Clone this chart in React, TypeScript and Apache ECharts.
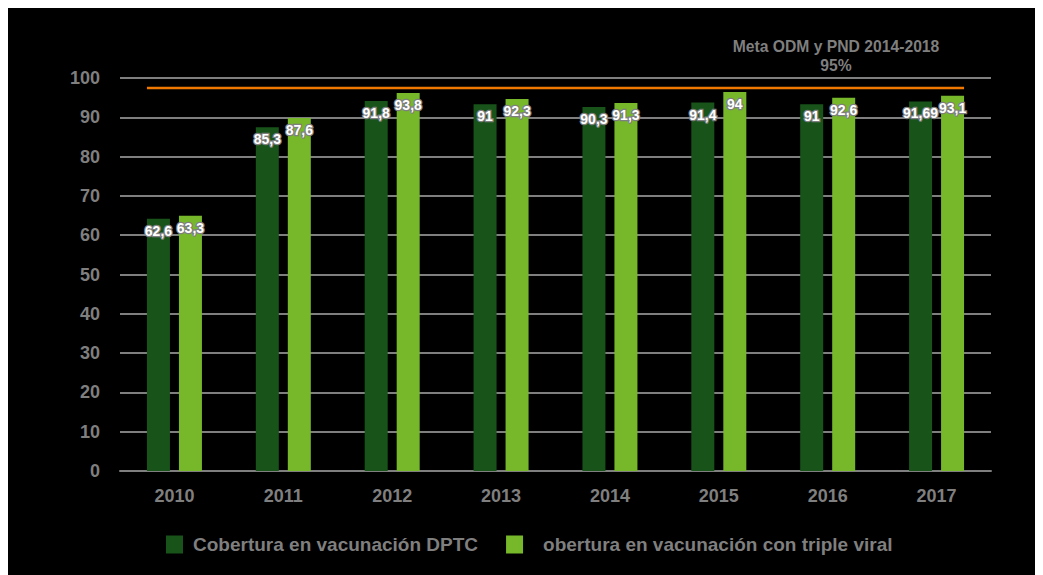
import React, { useEffect, useRef } from "react";
import * as echarts from "echarts";

const years = ["2010", "2011", "2012", "2013", "2014", "2015", "2016", "2017"];
const dptc = [62.6, 85.3, 91.8, 91, 90.3, 91.4, 91, 91.69];
const tripleViral = [63.3, 87.6, 93.8, 92.3, 91.3, 94, 92.6, 93.1];
const seriesNames = ["Cobertura en vacunación DPTC", "obertura en vacunación con triple viral"];
const metaValue = 95;
const metaLabel = "Meta ODM y PND 2014-2018\n95%";

const FONT = "'Liberation Sans', Arial, Helvetica, sans-serif";
const GRAY = "#7f7f7f";
const DARK = "#18531a";
const LIGHT = "#76b82a";
const ORANGE = "#f07800";

const GRID_LEFT = 112;
const GRID_RIGHT = 52;
const BAR_W = 23;
const BAR_GAP_PX = 9;

export default function App() {
  const ref = useRef<HTMLDivElement>(null);
  useEffect(() => {
    if (!ref.current) return;
    const chart = echarts.init(ref.current, null, { renderer: "svg" });
    const width = 1035;
    const catW = (width - GRID_LEFT - GRID_RIGHT) / years.length;
    const halfGroup = (BAR_W * 2 + BAR_GAP_PX) / 2 / catW;
    const fmt = (p: any) => String(p.value).replace(".", ",");
    const labelStyle = {
      show: true,
      position: "insideTop" as const,
      distance: 5,
      formatter: fmt,
      color: "#ffffff",
      fontFamily: FONT,
      fontWeight: "bold" as const,
      fontSize: 14,
      textBorderColor: GRAY,
      textBorderWidth: 2.5,
    };
    chart.setOption({
      animation: false,
      backgroundColor: "#000000",
      textStyle: { fontFamily: FONT },
      grid: { left: GRID_LEFT, right: GRID_RIGHT, top: 70, bottom: 104, containLabel: false },
      legend: {
        left: 153,
        top: 522,
        icon: "rect",
        itemWidth: 17,
        itemHeight: 18,
        itemGap: 28,
        textStyle: { color: GRAY, fontSize: 19, fontWeight: "bold", fontFamily: FONT },
        data: [
          { name: seriesNames[0], textStyle: { padding: [0, 0, 0, 5] } },
          { name: seriesNames[1], textStyle: { padding: [0, 0, 0, 15] } },
        ],
      },
      xAxis: [
        {
          type: "category",
          data: years,
          axisTick: { show: false },
          axisLine: { lineStyle: { color: GRAY, width: 2 } },
          axisLabel: { color: GRAY, fontSize: 18, fontWeight: "bold", margin: 16, fontFamily: FONT },
        },
        { type: "value", min: -0.5, max: years.length - 0.5, show: false },
      ],
      yAxis: [
        {
          type: "value",
          min: 0,
          max: 100,
          interval: 10,
          axisLine: { show: false },
          axisTick: { show: false },
          splitLine: { lineStyle: { color: GRAY, width: 2 } },
          axisLabel: {
            color: GRAY,
            fontSize: 18,
            fontWeight: "bold",
            margin: 20,
            fontFamily: FONT,
            padding: [0, 0, 12, 0],
          },
        },
        { type: "value", min: 0, max: 97.5, show: false, splitLine: { show: false } },
      ],
      series: [
        {
          name: seriesNames[0],
          type: "bar",
          yAxisIndex: 1,
          data: dptc,
          barWidth: BAR_W,
          barGap: `${(BAR_GAP_PX / BAR_W) * 100}%`,
          itemStyle: { color: DARK },
          label: labelStyle,
          z: 2,
        },
        {
          name: seriesNames[1],
          type: "bar",
          yAxisIndex: 1,
          data: tripleViral,
          barWidth: BAR_W,
          barGap: `${(BAR_GAP_PX / BAR_W) * 100}%`,
          itemStyle: { color: LIGHT },
          label: labelStyle,
          z: 2,
        },
        {
          name: "Meta",
          type: "line",
          xAxisIndex: 1,
          yAxisIndex: 1,
          data: [
            [0 - halfGroup, metaValue],
            [years.length - 1 + halfGroup, metaValue],
          ],
          symbol: "none",
          lineStyle: { color: ORANGE, width: 2.5 },
          z: 3,
          silent: true,
        },
      ],
      graphic: [
        {
          type: "text",
          x: 828,
          y: 29,
          style: {
            text: metaLabel,
            fill: GRAY,
            font: `bold 15.7px ${FONT}`,
            textAlign: "center",
            lineHeight: 19,
          },
        },
      ],
    });
    return () => chart.dispose();
  }, []);
  return <div ref={ref} style={{ width: 1035, height: 567, background: "#000" }} />;
}
